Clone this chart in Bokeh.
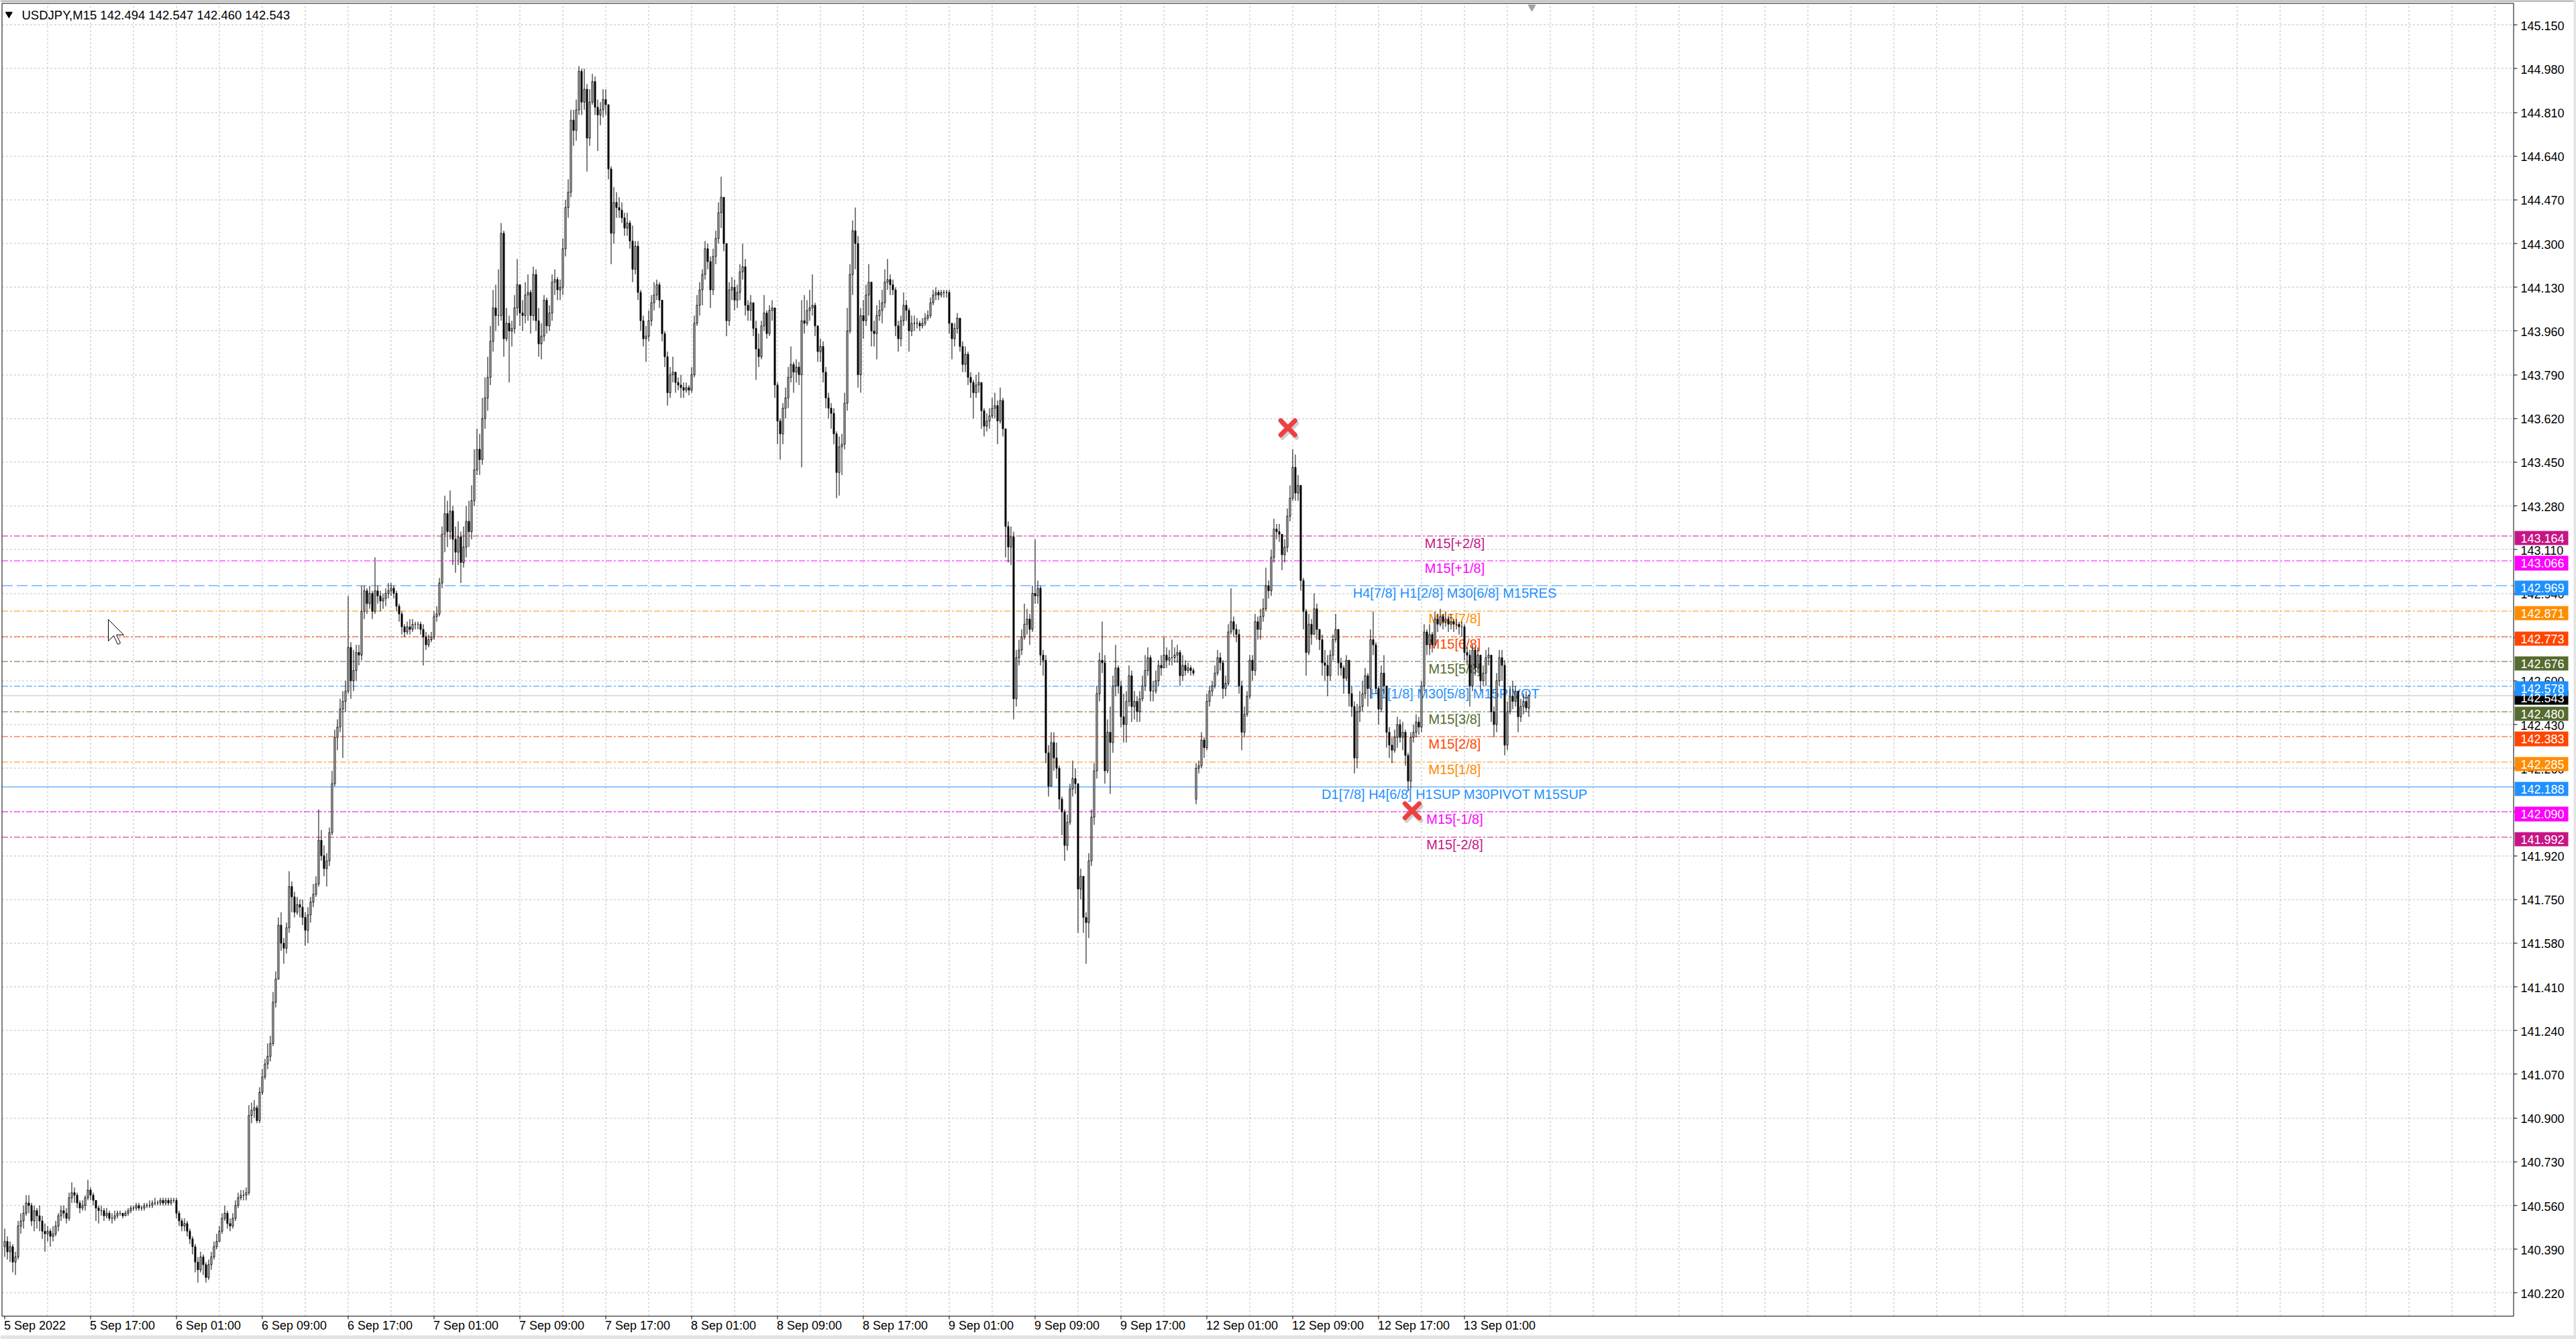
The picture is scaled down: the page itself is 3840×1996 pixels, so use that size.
import math
from bokeh.plotting import figure
from bokeh.models import Range1d, ColumnDataSource
from bokeh.core.properties import value
from bokeh.embed import file_html
from bokeh.resources import INLINE

# ------------------------------------------------------------------ data
HEADER = "USDJPY,M15  142.494 142.547 142.460 142.543"
FIRST_OPEN = 140.40
GAP_BAR = 444          # first bar of Monday 12 Sep
GAP_OPEN = 142.14

CLOSE = [
 140.42, 140.38, 140.40, 140.34, 140.36, 140.48, 140.50, 140.53, 140.57, 140.56,
 140.50, 140.54, 140.52, 140.50, 140.46, 140.45, 140.46, 140.44, 140.45, 140.48,
 140.52, 140.54, 140.53, 140.51, 140.59, 140.61, 140.60, 140.57, 140.55, 140.56,
 140.59, 140.62, 140.60, 140.58, 140.55, 140.54, 140.54, 140.52, 140.53, 140.51,
 140.51, 140.52, 140.53, 140.53, 140.52, 140.53, 140.54, 140.55, 140.55, 140.56,
 140.55, 140.55, 140.56, 140.56, 140.56, 140.57, 140.57, 140.57, 140.58, 140.57,
 140.58, 140.57, 140.58, 140.58, 140.53, 140.50, 140.48, 140.49, 140.46, 140.43,
 140.40, 140.34, 140.31, 140.36, 140.33, 140.28, 140.33, 140.36, 140.40, 140.42,
 140.46, 140.51, 140.53, 140.49, 140.48, 140.51, 140.56, 140.59, 140.60, 140.60,
 140.61, 140.91, 140.93, 140.94, 140.89, 141.00, 141.06, 141.11, 141.14, 141.19,
 141.35, 141.44, 141.65, 141.58, 141.56, 141.64, 141.80, 141.76, 141.70, 141.73,
 141.72, 141.68, 141.63, 141.69, 141.74, 141.77, 141.81, 141.98, 141.92, 141.87,
 141.90, 142.01, 142.20, 142.38, 142.42, 142.49, 142.52, 142.56, 142.73, 142.60,
 142.64, 142.71, 142.70, 142.87, 142.95, 142.90, 142.94, 142.87, 142.95, 142.93,
 142.91, 142.92, 142.94, 142.95, 142.96, 142.94, 142.89, 142.86, 142.81, 142.79,
 142.81, 142.80, 142.82, 142.82, 142.82, 142.80, 142.77, 142.74, 142.76, 142.77,
 142.85, 142.86, 142.98, 143.17,
 143.25, 143.18, 143.26, 143.15, 143.10, 143.16, 143.06, 143.12, 143.22, 143.18,
 143.30, 143.42, 143.50, 143.46, 143.62, 143.70, 143.78, 143.92, 144.05, 144.02,
 144.02, 144.34, 143.93, 143.99, 143.96, 143.97, 144.05, 144.14, 144.03, 144.02,
 144.10, 144.11, 144.02, 144.18, 144.00, 143.91, 143.94, 144.08, 143.98, 144.03,
 144.15, 144.16, 144.12, 144.13, 144.28, 144.44, 144.50, 144.78, 144.74, 144.82,
 144.97, 144.85, 144.90, 144.71, 144.85, 144.93, 144.83, 144.80, 144.82, 144.86,
 144.84, 144.59, 144.34, 144.46, 144.44, 144.43, 144.40, 144.36, 144.38, 144.31,
 144.20, 144.29, 144.11, 144.00, 143.93, 143.94, 144.00, 144.07, 144.10, 144.14,
 144.08, 143.95, 143.86, 143.72, 143.79, 143.80, 143.76, 143.75, 143.74, 143.73,
 143.74, 143.73, 143.79, 143.99, 144.06, 144.12, 144.18, 144.28, 144.23, 144.12,
 144.25, 144.32, 144.42, 144.48, 144.30, 144.00, 144.12, 144.13, 144.08, 144.11,
 144.19, 144.21, 144.06, 144.04, 144.07, 143.97, 143.89, 143.86, 143.98, 144.03,
 143.95, 144.04, 144.05, 143.75, 143.61, 143.56, 143.66, 143.70, 143.78, 143.83,
 143.80, 143.82, 143.79, 144.00, 143.99, 144.04, 144.05, 144.06, 143.98, 143.88,
 143.90, 143.80, 143.70, 143.66, 143.64, 143.56, 143.41, 143.51, 143.52, 143.68,
 143.96, 144.18, 144.35, 144.30, 143.79, 144.02, 144.00, 144.10, 144.15, 143.96,
 143.95, 144.02, 144.04, 144.07, 144.15, 144.16, 144.14, 144.12, 143.98, 143.93,
 144.00, 144.06, 144.04, 143.96, 143.99, 143.99, 143.99, 143.98, 143.99, 144.01,
 144.02, 144.07, 144.10, 144.11, 144.10, 144.11, 144.11, 144.11, 143.99, 143.93,
 143.97, 144.01, 143.90, 143.83, 143.87, 143.78, 143.76, 143.72, 143.75, 143.76,
 143.65, 143.59, 143.61, 143.63, 143.66, 143.67, 143.61, 143.69, 143.58,
 143.20, 143.12, 143.16, 142.53, 142.69, 142.72, 142.77, 142.82, 142.84, 142.80, 142.94,
 142.93, 142.96, 142.70, 142.68, 142.32, 142.19, 142.36, 142.30, 142.26, 142.14,
 142.09, 141.96, 142.05, 142.18, 142.22, 142.20, 141.79, 141.84, 141.68, 141.66,
 141.90, 142.07, 142.25, 142.55, 142.68, 142.67, 142.25, 142.40, 142.36, 142.58,
 142.65, 142.58, 142.46, 142.43, 142.52, 142.62, 142.50, 142.52, 142.48, 142.53,
 142.58, 142.64, 142.69, 142.56, 142.56, 142.60, 142.66, 142.65, 142.70, 142.68,
 142.69, 142.69, 142.70, 142.71, 142.62, 142.66, 142.64, 142.65, 142.64, 142.63,
 142.26, 142.27, 142.37, 142.34, 142.52, 142.56, 142.58, 142.63, 142.69, 142.67,
 142.57, 142.59, 142.79, 142.83, 142.80, 142.78, 142.58, 142.40, 142.47, 142.54,
 142.68, 142.64, 142.83, 142.80, 142.85, 142.88, 142.97, 142.95, 143.08, 143.19,
 143.18, 143.17, 143.09, 143.12, 143.24, 143.31, 143.43, 143.33, 143.36, 142.99,
 142.87, 142.71, 142.82, 142.78, 142.88, 142.80, 142.76, 142.67, 142.66, 142.62,
 142.70, 142.76, 142.80, 142.67, 142.65, 142.61, 142.68, 142.55, 142.50, 142.30,
 142.48, 142.50, 142.55, 142.62, 142.57, 142.76, 142.74, 142.57, 142.49, 142.63,
 142.58, 142.40, 142.35, 142.33, 142.38, 142.43, 142.38, 142.40, 142.31, 142.21,
 142.38, 142.40, 142.44, 142.42, 142.58, 142.79, 142.74, 142.78, 142.74, 142.84,
 142.82, 142.85, 142.83, 142.84, 142.82, 142.83, 142.82, 142.82, 142.81, 142.81,
 142.71, 142.70, 142.58, 142.72, 142.65, 142.70, 142.60, 142.63, 142.69, 142.70,
 142.48, 142.43, 142.60, 142.69, 142.66, 142.35, 142.48, 142.54, 142.52, 142.56,
 142.46, 142.50, 142.52, 142.494, 142.543,
]

HIGH = [
 140.47, 140.44, 140.42, 140.41, 140.38, 140.50, 140.53, 140.56, 140.60, 140.60,
 140.57, 140.56, 140.55, 140.56, 140.52, 140.49, 140.48, 140.47, 140.48, 140.50,
 140.53, 140.56, 140.56, 140.55, 140.61, 140.65, 140.63, 140.61, 140.58, 140.58,
 140.60, 140.66, 140.63, 140.61, 140.58, 140.56, 140.56, 140.55, 140.55, 140.54,
 140.53, 140.54, 140.54, 140.54, 140.53, 140.54, 140.55, 140.56, 140.56, 140.57,
 140.57, 140.56, 140.57, 140.57, 140.58, 140.58, 140.59, 140.58, 140.59, 140.59,
 140.59, 140.59, 140.59, 140.59, 140.59, 140.54, 140.51, 140.51, 140.50, 140.47,
 140.44, 140.41, 140.36, 140.38, 140.37, 140.34, 140.35, 140.38, 140.42, 140.45,
 140.48, 140.53, 140.56, 140.54, 140.51, 140.53, 140.58, 140.61, 140.62, 140.62,
 140.63, 140.95, 140.96, 140.97, 140.95, 141.02, 141.09, 141.13, 141.19, 141.22,
 141.39, 141.47, 141.68, 141.70, 141.60, 141.66, 141.86, 141.82, 141.78, 141.76,
 141.75, 141.75, 141.70, 141.72, 141.76, 141.81, 141.84, 142.10, 142.02, 141.96,
 141.93, 142.03, 142.25, 142.41, 142.45, 142.53, 142.56, 142.60, 142.93, 142.75,
 142.72, 142.74, 142.74, 142.97, 142.97, 142.96, 142.97, 142.95, 143.08, 142.97,
 142.95, 142.94, 142.96, 142.98, 142.98, 142.97, 142.95, 142.90, 142.87, 142.82,
 142.83, 142.84, 142.84, 142.83, 142.83, 142.83, 142.82, 142.79, 142.78, 142.79,
 142.87, 142.89, 143.00, 143.20,
 143.32, 143.30, 143.34, 143.28, 143.20, 143.22, 143.18, 143.20, 143.28, 143.30,
 143.36, 143.50, 143.58, 143.56, 143.70, 143.78, 143.86, 143.98, 144.12, 144.14,
 144.20, 144.38, 144.35, 144.05, 144.02, 144.00, 144.10, 144.24, 144.14, 144.08,
 144.15, 144.18, 144.12, 144.21, 144.20, 144.05, 143.99, 144.10, 144.09, 144.06,
 144.18, 144.20, 144.17, 144.16, 144.32, 144.47, 144.55, 144.82, 144.82, 144.86,
 144.99, 144.98, 144.98, 144.92, 144.90, 144.96, 144.95, 144.86, 144.85, 144.90,
 144.90, 144.84, 144.60, 144.52, 144.50, 144.48, 144.46, 144.42, 144.42, 144.39,
 144.37, 144.31, 144.31, 144.12, 144.02, 143.98, 144.04, 144.10, 144.15, 144.16,
 144.15, 144.08, 143.96, 143.88, 143.82, 143.86, 143.80, 143.78, 143.79, 143.76,
 143.76, 143.75, 143.82, 144.02, 144.10, 144.15, 144.20, 144.31, 144.30, 144.25,
 144.28, 144.35, 144.46, 144.56, 144.42, 144.30, 144.15, 144.17, 144.16, 144.14,
 144.22, 144.30, 144.24, 144.08, 144.10, 144.06, 144.00, 143.95, 144.00, 144.10,
 144.04, 144.06, 144.08, 144.05, 143.76, 143.62, 143.68, 143.74, 143.82, 143.90,
 143.84, 143.85, 143.84, 144.08, 144.10, 144.08, 144.12, 144.18, 144.07, 143.98,
 143.93, 143.92, 143.82, 143.72, 143.68, 143.66, 143.57, 143.55, 143.56, 143.72,
 144.05, 144.22, 144.39, 144.44, 144.33, 144.05, 144.08, 144.14, 144.22, 144.14,
 144.00, 144.06, 144.08, 144.12, 144.20, 144.24, 144.18, 144.16, 144.13, 144.00,
 144.02, 144.11, 144.08, 144.05, 144.02, 144.02, 144.01, 144.00, 144.01, 144.03,
 144.04, 144.09, 144.12, 144.13, 144.12, 144.12, 144.12, 144.12, 144.12, 143.99,
 143.99, 144.03, 144.00, 143.92, 143.90, 143.88, 143.80, 143.77, 143.79, 143.80,
 143.76, 143.66, 143.64, 143.66, 143.70, 143.72, 143.69, 143.74, 143.70,
 143.58, 143.22, 143.20, 143.18, 142.72, 142.76, 142.80, 142.90, 142.88, 142.86, 142.97,
 143.15, 142.99, 142.97, 142.72, 142.70, 142.35, 142.40, 142.40, 142.36, 142.27,
 142.15, 142.10, 142.08, 142.20, 142.29, 142.26, 142.20, 141.87, 141.84, 141.70,
 141.93, 142.10, 142.28, 142.58, 142.71, 142.83, 142.70, 142.45, 142.50, 142.62,
 142.74, 142.66, 142.60, 142.55, 142.56, 142.66, 142.64, 142.56, 142.54, 142.56,
 142.62, 142.70, 142.73, 142.70, 142.60, 142.64, 142.68, 142.70, 142.77, 142.73,
 142.72, 142.76, 142.73, 142.74, 142.72, 142.70, 142.68, 142.67, 142.66, 142.65,
 142.28, 142.29, 142.40, 142.38, 142.55, 142.58, 142.60, 142.66, 142.72, 142.71,
 142.68, 142.62, 142.82, 142.96, 142.85, 142.82, 142.80, 142.60, 142.50, 142.56,
 142.70, 142.70, 142.86, 142.85, 142.88, 142.92, 143.04, 142.99, 143.11, 143.23,
 143.21, 143.21, 143.17, 143.15, 143.27, 143.36, 143.50, 143.48, 143.40, 143.36,
 143.00, 142.88, 142.86, 142.84, 142.94, 142.90, 142.80, 142.78, 142.72, 142.70,
 142.72, 142.78, 142.86, 142.80, 142.69, 142.66, 142.70, 142.68, 142.58, 142.52,
 142.51, 142.56, 142.60, 142.65, 142.63, 142.80, 142.87, 142.75, 142.58, 142.66,
 142.70, 142.58, 142.42, 142.38, 142.41, 142.46, 142.45, 142.44, 142.41, 142.32,
 142.40, 142.43, 142.47, 142.46, 142.60, 142.82, 142.80, 142.82, 142.79, 142.87,
 142.86, 142.88, 142.86, 142.87, 142.85, 142.86, 142.84, 142.84, 142.83, 142.83,
 142.82, 142.73, 142.72, 142.74, 142.73, 142.73, 142.68, 142.66, 142.72, 142.73,
 142.70, 142.50, 142.63, 142.72, 142.72, 142.68, 142.52, 142.58, 142.60, 142.58,
 142.56, 142.53, 142.55, 142.56, 142.547,
]

LOW = [
 140.36, 140.35, 140.34, 140.30, 140.29, 140.35, 140.45, 140.47, 140.52, 140.53,
 140.48, 140.46, 140.47, 140.46, 140.43, 140.38, 140.42, 140.40, 140.42, 140.44,
 140.46, 140.50, 140.51, 140.49, 140.50, 140.57, 140.57, 140.55, 140.53, 140.54,
 140.54, 140.58, 140.58, 140.56, 140.50, 140.49, 140.52, 140.50, 140.51, 140.50,
 140.49, 140.50, 140.51, 140.52, 140.51, 140.52, 140.52, 140.53, 140.54, 140.54,
 140.54, 140.54, 140.54, 140.55, 140.55, 140.55, 140.56, 140.56, 140.56, 140.56,
 140.56, 140.56, 140.56, 140.57, 140.51, 140.48, 140.46, 140.46, 140.44, 140.41,
 140.37, 140.30, 140.26, 140.30, 140.29, 140.26, 140.27, 140.31, 140.35, 140.39,
 140.42, 140.45, 140.50, 140.47, 140.46, 140.47, 140.50, 140.55, 140.58, 140.58,
 140.58, 140.60, 140.88, 140.90, 140.88, 140.88, 140.99, 141.05, 141.09, 141.12,
 141.18, 141.33, 141.44, 141.55, 141.50, 141.54, 141.62, 141.70, 141.68, 141.69,
 141.68, 141.65, 141.57, 141.58, 141.66, 141.72, 141.76, 141.80, 141.90, 141.84,
 141.80, 141.88, 142.00, 142.19, 142.33, 142.40, 142.30, 142.48, 142.55, 142.53,
 142.56, 142.60, 142.66, 142.68, 142.84, 142.86, 142.88, 142.84, 142.86, 142.90,
 142.87, 142.88, 142.89, 142.92, 142.93, 142.92, 142.87, 142.83, 142.78, 142.77,
 142.78, 142.78, 142.79, 142.80, 142.80, 142.78, 142.66, 142.72, 142.73, 142.75,
 142.76, 142.83, 142.85, 142.96,
 143.10, 143.12, 143.15, 143.05, 143.02, 143.05, 142.98, 143.04, 143.08, 143.12,
 143.15, 143.28, 143.40, 143.40, 143.44, 143.58, 143.65, 143.75, 143.88, 143.96,
 143.98, 144.00, 143.86, 143.92, 143.76, 143.90, 143.95, 144.02, 143.98, 143.96,
 143.99, 144.00, 143.95, 144.00, 143.96, 143.86, 143.85, 143.92, 143.95, 143.96,
 144.00, 144.10, 144.08, 144.08, 144.10, 144.25, 144.40, 144.48, 144.68, 144.70,
 144.80, 144.80, 144.82, 144.58, 144.68, 144.84, 144.80, 144.66, 144.76, 144.79,
 144.80, 144.55, 144.22, 144.30, 144.40, 144.40, 144.38, 144.33, 144.33, 144.28,
 144.15, 144.18, 144.08, 143.96, 143.90, 143.84, 143.92, 143.98, 144.04, 144.08,
 144.05, 143.92, 143.82, 143.67, 143.70, 143.76, 143.72, 143.73, 143.70, 143.70,
 143.72, 143.71, 143.72, 143.78, 143.98, 144.02, 144.06, 144.16, 144.20, 144.05,
 144.10, 144.22, 144.30, 144.36, 144.27, 143.94, 143.98, 144.08, 144.04, 144.05,
 144.08, 144.16, 144.02, 144.00, 144.00, 143.94, 143.77, 143.82, 143.85, 143.96,
 143.93, 143.94, 144.00, 143.70, 143.52, 143.46, 143.52, 143.62, 143.66, 143.76,
 143.72, 143.76, 143.75, 143.43, 143.95, 143.98, 144.00, 144.02, 143.94, 143.84,
 143.84, 143.76, 143.66, 143.62, 143.58, 143.52, 143.31, 143.32, 143.40, 143.50,
 143.65, 143.95, 144.10, 144.20, 143.74, 143.72, 143.93, 143.98, 144.02, 143.90,
 143.90, 143.85, 144.00, 143.99, 144.05, 144.12, 144.10, 144.10, 143.94, 143.88,
 143.90, 143.98, 144.00, 143.88, 143.94, 143.96, 143.97, 143.96, 143.97, 143.98,
 144.00, 144.01, 144.06, 144.08, 144.08, 144.09, 144.09, 144.09, 143.95, 143.85,
 143.90, 143.95, 143.88, 143.80, 143.80, 143.75, 143.70, 143.62, 143.70, 143.72,
 143.58, 143.55, 143.57, 143.58, 143.62, 143.62, 143.52, 143.60, 143.55,
 143.08, 143.06, 143.05, 142.45, 142.50, 142.66, 142.70, 142.76, 142.78, 142.74, 142.79,
 142.90, 142.90, 142.66, 142.62, 142.28, 142.15, 142.19, 142.25, 142.22, 142.10,
 142.00, 141.90, 141.94, 142.04, 142.15, 142.16, 141.62, 141.75, 141.62, 141.50,
 141.60, 141.88, 142.04, 142.22, 142.52, 142.63, 142.20, 142.24, 142.16, 142.32,
 142.54, 142.55, 142.42, 142.36, 142.36, 142.50, 142.44, 142.45, 142.44, 142.44,
 142.52, 142.56, 142.62, 142.52, 142.52, 142.55, 142.58, 142.62, 142.66, 142.65,
 142.66, 142.66, 142.67, 142.67, 142.58, 142.60, 142.62, 142.63, 142.62, 142.62,
 142.12, 142.24, 142.26, 142.30, 142.33, 142.50, 142.54, 142.57, 142.62, 142.64,
 142.53, 142.54, 142.58, 142.78, 142.77, 142.75, 142.55, 142.33, 142.38, 142.46,
 142.53, 142.60, 142.62, 142.76, 142.76, 142.83, 142.87, 142.92, 142.93, 143.06,
 143.15, 143.14, 143.03, 143.06, 143.10, 143.22, 143.30, 143.30, 143.30, 142.95,
 142.80, 142.62, 142.70, 142.74, 142.80, 142.76, 142.72, 142.62, 142.60, 142.54,
 142.60, 142.68, 142.75, 142.62, 142.62, 142.55, 142.60, 142.50, 142.46, 142.24,
 142.26, 142.44, 142.48, 142.53, 142.50, 142.53, 142.70, 142.55, 142.43, 142.48,
 142.55, 142.34, 142.30, 142.28, 142.32, 142.34, 142.36, 142.33, 142.27, 142.17,
 142.18, 142.36, 142.38, 142.39, 142.40, 142.56, 142.70, 142.70, 142.71, 142.74,
 142.79, 142.81, 142.80, 142.81, 142.79, 142.80, 142.79, 142.80, 142.78, 142.77,
 142.68, 142.66, 142.50, 142.56, 142.62, 142.63, 142.56, 142.58, 142.58, 142.66,
 142.44, 142.38, 142.40, 142.58, 142.60, 142.31, 142.33, 142.47, 142.49, 142.50,
 142.40, 142.44, 142.47, 142.48, 142.460,
]

PRICE_TICKS = [145.150, 144.980, 144.810, 144.640, 144.470, 144.300, 144.130, 143.960,
               143.790, 143.620, 143.450, 143.280, 143.110, 142.940, 142.770, 142.600,
               142.430, 142.260, 142.090, 141.920, 141.750, 141.580, 141.410, 141.240,
               141.070, 140.900, 140.730, 140.560, 140.390, 140.220]

TIME_LABELS = ["5 Sep 2022", "5 Sep 17:00", "6 Sep 01:00", "6 Sep 09:00", "6 Sep 17:00",
               "7 Sep 01:00", "7 Sep 09:00", "7 Sep 17:00", "8 Sep 01:00", "8 Sep 09:00",
               "8 Sep 17:00", "9 Sep 01:00", "9 Sep 09:00", "9 Sep 17:00", "12 Sep 01:00",
               "12 Sep 09:00", "12 Sep 17:00", "13 Sep 01:00"]
TIME_BARS = [0, 32, 64, 96, 128, 160, 192, 224, 256, 288, 320, 352, 384, 416, 448,
             480, 512, 544]

LEVEL_PRICES = [143.164, 143.066, 142.969, 142.871, 142.773, 142.676, 142.578,
                142.480, 142.383, 142.285, 142.188, 142.090, 141.992]
LEVEL_TEXTS = ["M15[+2/8]", "M15[+1/8]", "H4[7/8] H1[2/8] M30[6/8] M15RES", "M15[7/8]",
               "M15[6/8]", "M15[5/8]", "H1[1/8] M30[5/8] M15PIVOT", "M15[3/8]",
               "M15[2/8]", "M15[1/8]", "D1[7/8] H4[6/8] H1SUP M30PIVOT M15SUP",
               "M15[-1/8]", "M15[-2/8]"]
LEVEL_COLORS = ["#C71585", "#FF00FF", "#1E90FF", "#FF8C00", "#FF4500", "#556B2F", "#1E90FF",
                "#556B2F", "#FF4500", "#FF8C00", "#1E90FF", "#FF00FF", "#C71585"]
LEVEL_STYLES = ["dashdot", "dashdot", "dash", "dashdot", "dashdot", "dashdot", "dashdot",
                "dashdot", "dashdot", "dashdot", "solid", "dashdot", "dashdot"]
BID = 142.543

MARK_BARS = [478.2, 524.5]
MARK_PRICES = [143.584, 142.095]

# ------------------------------------------------------------------ layout helpers
W, H = 3840, 1996                     # canvas (page starts at 0,0)
PLOT_L, PLOT_R, PLOT_T, PLOT_B = 2.5, 3746.5, 4.5, 1961.5   # chart window (page px)
BAR0, STEP = 6.5, 4.0                 # page x of bar 0, px per bar


def bx(px):                           # page x -> bar coordinate
    return (px - BAR0) / STEP


def py(pgy):                          # page y -> price
    return 145.15 - (pgy - 36.7) / 383.4


def pg(price):                        # price -> page y
    return 36.7 + (145.15 - price) * 383.4


def snap(price):                      # price -> price at the nearest pixel centre
    return py(math.floor(pg(price)) + 0.5)


FONT = value("Liberation Sans")
DASHES = {"dashdot": "9 3 3 3", "dash": "16 6", "solid": "solid"}

n = len(CLOSE)
assert len(HIGH) == n and len(LOW) == n, (n, len(HIGH), len(LOW))

OPEN = [FIRST_OPEN] + CLOSE[:-1]
OPEN[GAP_BAR] = GAP_OPEN
hi = [max(h, o, c) for h, o, c in zip(HIGH, OPEN, CLOSE)]
lo = [min(l, o, c) for l, o, c in zip(LOW, OPEN, CLOSE)]

src = ColumnDataSource(dict(
    x=list(range(n)), high=hi, low=lo,
    top=[max(o, c) for o, c in zip(OPEN, CLOSE)],
    bottom=[min(o, c) for o, c in zip(OPEN, CLOSE)],
    fill=["white" if c >= o else "black" for o, c in zip(OPEN, CLOSE)],
))

p = figure(width=W, height=H,
           x_range=Range1d(bx(0), bx(W)), y_range=Range1d(py(H), py(0)),
           x_axis_location=None, y_axis_location=None, min_border=0,
           output_backend="svg", toolbar_location=None)
p.grid.visible = False
p.outline_line_color = None
p.background_fill_color = "white"
p.border_fill_color = "white"

xl, xr = bx(PLOT_L), bx(PLOT_R)
yt, yb = py(PLOT_T), py(PLOT_B)

# window frame (grey edges of the terminal window)
p.quad(left=[bx(0)], right=[bx(W)], top=[py(0)], bottom=[py(2)], fill_color="#A0A0A0",
       line_color=None)
p.quad(left=[bx(0)], right=[bx(W)], top=[py(1990)], bottom=[py(H)], fill_color="#E3E3E3",
       line_color=None)
p.quad(left=[bx(3836)], right=[bx(W)], top=[py(0)], bottom=[py(H)], fill_color="#E3E3E3",
       line_color=None)

# grid (dashed silver)
vg = list(range(16, 934, 16))
p.segment(x0=vg, y0=[yb] * len(vg), x1=vg, y1=[yt] * len(vg),
          line_color="#C0C0C0", line_dash="3 3", line_width=1)
gy = [snap(v) for v in PRICE_TICKS]
p.segment(x0=[xl] * len(gy), y0=gy, x1=[xr] * len(gy), y1=gy,
          line_color="#C0C0C0", line_dash="3 3", line_width=1)

# level lines + texts (behind the candles)
for price, col, sty in zip(LEVEL_PRICES, LEVEL_COLORS, LEVEL_STYLES):
    p.segment(x0=[xl], y0=[snap(price)], x1=[xr], y1=[snap(price)], line_color=col,
              line_dash=DASHES[sty], line_width=1)
for price, txt, col in zip(LEVEL_PRICES, LEVEL_TEXTS, LEVEL_COLORS):
    p.text(x=[bx(2168)], y=[price], text=[txt], text_align="center",
           text_baseline="top", text_font=FONT, text_font_size="20px", text_color=col)
p.segment(x0=[xl], y0=[snap(BID)], x1=[xr], y1=[snap(BID)], line_color="#C0C0C0",
          line_width=1)

# candles
p.segment(x0="x", y0="low", x1="x", y1="high", source=src, line_color="black", line_width=1)
p.vbar(x="x", width=0.5, top="top", bottom="bottom", source=src,
       fill_color="fill", line_color="black", line_width=1)

# red cross marks
sh_x = [b + 0.6 for b in MARK_BARS]
sh_y = [v - 4 / 383.4 for v in MARK_PRICES]
p.scatter(sh_x, sh_y, marker="x", size=30, line_width=7, line_color="#777777",
          line_alpha=0.35, line_cap="round")
p.scatter(MARK_BARS, MARK_PRICES, marker="x", size=30, line_width=7,
          line_color="#EE4040", line_cap="round")

# mouse pointer
cur = [(0, 0), (0, 32), (8, 24), (14, 37), (18, 35), (12, 23), (23, 23)]
p.patch([bx(161 + u) for u, v in cur], [py(923 + v) for u, v in cur],
        fill_color="white", line_color="black", line_width=1)

# chart window border
p.segment(x0=[xl, xl, xl, xr], y0=[yt, yb, yt, yt], x1=[xr, xr, xl, xr], y1=[yt, yb, yb, yb],
          line_color="black", line_width=1)

# price scale: ticks + labels
p.segment(x0=[xr] * len(gy), y0=gy, x1=[bx(3752)] * len(gy), y1=gy,
          line_color="black", line_width=1)
p.text(x=[bx(3757)] * len(PRICE_TICKS), y=[py(pg(v) + 1) for v in PRICE_TICKS],
       text=[f"{v:.3f}" for v in PRICE_TICKS], text_align="left", text_baseline="middle",
       text_font=FONT, text_font_size="18px", text_color="black")

# price boxes (bid first, then levels on top)
box_prices = [BID] + LEVEL_PRICES
box_colors = ["black"] + LEVEL_COLORS
p.quad(left=[bx(3748)] * len(box_prices), right=[bx(3828)] * len(box_prices),
       top=[py(round(pg(v) - 7.5)) for v in box_prices],
       bottom=[py(round(pg(v) + 14)) for v in box_prices],
       fill_color=box_colors, line_color=None)
p.text(x=[bx(3757)] * len(box_prices), y=[py(pg(v) + 3.5) for v in box_prices],
       text=[f"{v:.3f}" for v in box_prices], text_align="left", text_baseline="middle",
       text_font=FONT, text_font_size="18px", text_color="white")

# time scale: ticks + labels
p.segment(x0=TIME_BARS, y0=[yb] * len(TIME_BARS), x1=TIME_BARS,
          y1=[py(1966)] * len(TIME_BARS), line_color="black", line_width=1)
p.text(x=[b - 0.25 for b in TIME_BARS], y=[py(1975)] * len(TIME_BARS), text=TIME_LABELS,
       text_align="left", text_baseline="middle", text_font=FONT, text_font_size="18px",
       text_color="black")

# header
p.scatter([bx(12.8)], [py(20.5)], marker="inverted_triangle", size=10,
          fill_color="black", line_color="black")
p.text(x=[bx(32)], y=[py(22)], text=[HEADER], text_align="left", text_baseline="middle",
       text_font=FONT, text_font_size="18.5px", text_color="black")

# chart-shift marker at the top
p.scatter([bx(2283)], [py(10)], marker="inverted_triangle", size=11,
          fill_color="#A0A0A0", line_color="#A0A0A0")

open("out.html", "w").write(file_html(p, INLINE))
